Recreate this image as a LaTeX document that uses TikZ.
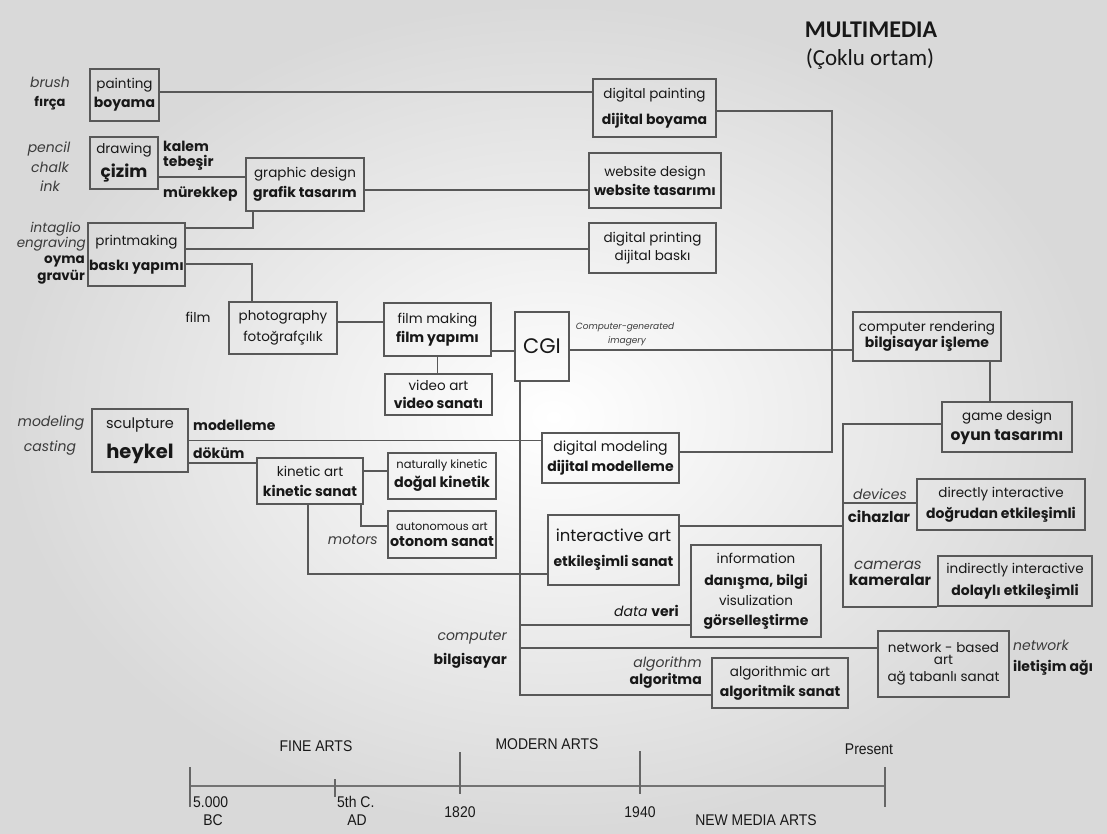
\documentclass[tikz,border=0pt]{standalone}
\usepackage{fontspec}
\setmainfont{Poppins}
\newfontfamily\calib{Carlito}
\newfontfamily\cond[FakeStretch=0.9]{Liberation Sans}
\definecolor{linec}{HTML}{585858}
\definecolor{txt}{HTML}{181818}
\newcommand\fs[2]{\fontsize{#1}{#2}\selectfont}
\newcommand\bb[1]{{\fs{14}{16}\bfseries #1}}
\begin{document}
\begin{tikzpicture}[x=1pt,y=-1pt,
  bx/.style={draw=linec,line width=1.5pt,inner sep=0pt,align=center,text=txt,font=\fs{13.5}{16}},
  conn/.style={draw=linec,line width=1.5pt},
  lbl/.style={inner sep=0pt,text=txt,font=\fs{13.5}{16}},
  itl/.style={inner sep=0pt,text=txt!85,font=\fs{14}{16}\itshape},
  bdl/.style={inner sep=0pt,text=txt,font=\fs{14}{16}\bfseries},
  tll/.style={inner sep=0pt,text=txt,font=\cond\fs{15.5}{17}}]
\shade[inner color=white,outer color=black!15] (0,0) rectangle (1107,834);
\useasboundingbox (0,0) rectangle (1107,834);

% title
\node[inner sep=0pt,text=txt,font=\calib\fs{24}{26}\bfseries] (title) at (871,30) {MULTIMEDIA};
\node[inner sep=0pt,text=txt,font=\calib\fs{23}{25}] (subtitle) at (870,59) {(Çoklu ortam)};

% boxes
\node[bx,minimum width=69pt,minimum height=52pt] (painting) at (124.5,95) {painting\\[3pt]\bb{boyama}};
\node[bx,minimum width=68pt,minimum height=52pt] (drawing) at (124,163) {drawing\\[6pt]{\fs{17}{19}\bfseries çizim}};
\node[bx,minimum width=118pt,minimum height=53pt] (graphic) at (305,184.5) {graphic design\\[4pt]\bb{grafik tasarım}};
\node[bx,minimum width=97pt,minimum height=63pt] (printmaking) at (136.5,254.5) {printmaking\\[9pt]\bb{baskı yapımı}};
\node[bx,minimum width=108pt,minimum height=52pt] (photography) at (283,328) {photography\\[5pt]fotoğrafçılık};
\node[bx,minimum width=107pt,minimum height=53pt] (filmmaking) at (437.5,329.5) {film making\\[3pt]\bb{film yapımı}};
\node[bx,minimum width=107pt,minimum height=41pt] (videoart) at (438.5,394.5) {video art\\[2pt]\bb{video sanatı}};
\node[bx,minimum width=54pt,minimum height=69pt,font=\fs{21}{24}] (cgi) at (542,346.5) {CGI};
\node[bx,minimum width=123pt,minimum height=58pt] (dpainting) at (654.5,108) {digital painting\\[10pt]\bb{dijital boyama}};
\node[bx,minimum width=132pt,minimum height=55pt] (website) at (655,180.5) {website design\\[3pt]\bb{website tasarımı}};
\node[bx,minimum width=127pt,minimum height=50pt] (dprinting) at (652.5,248) {digital printing\\[2pt]dijital baskı};
\node[bx,minimum width=137pt,minimum height=50pt,font=\fs{14}{16}] (dmodeling) at (610.5,458) {digital modeling\\[4pt]\bb{dijital modelleme}};
\node[bx,minimum width=148pt,minimum height=49pt] (render) at (927,336.5) {computer rendering\\[0pt]\bb{bilgisayar işleme}};
\node[bx,minimum width=130pt,minimum height=50pt] (game) at (1007,427) {game design\\[4pt]{\fs{15.5}{17}\bfseries oyun tasarımı}};
\node[bx,minimum width=168pt,minimum height=51pt] (direct) at (1001,504.5) {directly interactive\\[5pt]\bb{doğrudan etkileşimli}};
\node[bx,minimum width=154pt,minimum height=50pt] (indirect) at (1015,581) {indirectly interactive\\[6pt]\bb{dolaylı etkileşimli}};
\node[bx,minimum width=131pt,minimum height=70pt] (interactive) at (613.5,550) {{\fs{16.5}{18}interactive art}\\[9pt]\bb{etkileşimli sanat}};
\node[bx,minimum width=130pt,minimum height=92pt,font=\fs{13.5}{20}] (information) at (756,591) {information\\[2pt]\bb{danışma, bilgi}\\visulization\\\bb{görselleştirme}};
\node[bx,minimum width=136pt,minimum height=50pt] (algorithmic) at (780,683) {algorithmic art\\[4pt]\bb{algoritmik sanat}};
\node[bx,minimum width=131pt,minimum height=66pt,font=\fs{13.5}{16}] (network) at (943.5,664) {network - based\\[-4pt]art\\[1pt]ağ tabanlı sanat};
\node[bx,minimum width=96pt,minimum height=63pt] (sculpture) at (140,440.5) {{\fs{14.5}{17}sculpture}\\[11pt]{\fs{19.5}{21}\bfseries heykel}};
\node[bx,minimum width=106pt,minimum height=46pt] (kinetic) at (310,481) {kinetic art\\[4pt]\bb{kinetic sanat}};
\node[bx,minimum width=108pt,minimum height=46pt] (natkin) at (442,476) {{\fs{11.5}{13}naturally kinetic}\\[3pt]{\fs{14.3}{16}\bfseries doğal kinetik}};
\node[bx,minimum width=108pt,minimum height=47pt] (auton) at (442,534.5) {{\fs{11.3}{13}autonomous art}\\[0pt]{\fs{14.3}{16}\bfseries otonom sanat}};

% coordinates for trunks
\coordinate (rj) at (832,300);
\coordinate (bx) at (843,500);
\coordinate (cgv) at ([xshift=-22pt]cgi.south);

% connectors
\draw[conn] ([yshift=3pt]painting.east) -- ([yshift=3pt]painting.east -| dpainting.west);
\draw[conn] ([yshift=-14pt]drawing.east) -- ([yshift=-14pt]drawing.east -| graphic.west);
\draw[conn] ([yshift=-5.5pt]graphic.east) -- ([yshift=-5.5pt]graphic.east -| website.west);
\draw[conn] ([xshift=-52pt]graphic.south) |- ([yshift=26.5pt]printmaking.east);
\draw[conn] ([yshift=5.5pt]printmaking.east) -- ([yshift=5.5pt]printmaking.east -| dprinting.west);
\draw[conn] ([yshift=-9.5pt]printmaking.east) -| ([xshift=-31pt]photography.north);
\draw[conn] ([yshift=6pt]photography.east) -- ([yshift=6pt]photography.east -| filmmaking.west);
\draw[conn] (filmmaking.south) -- (filmmaking.south |- videoart.north);
\draw[conn] ([yshift=-21.5pt]filmmaking.east) -- ([yshift=-21.5pt]filmmaking.east -| cgi.west);
\draw[conn] ([yshift=-3.5pt]cgi.east) -- ([yshift=-3.5pt]cgi.east -| render.west);
\draw[conn] ([yshift=-3pt]dpainting.east) -| (rj) |- ([yshift=6pt]dmodeling.east);
\draw[conn] ([xshift=63pt]render.south) -- ([xshift=63pt]render.south |- game.north);
\draw[conn] ([yshift=3pt]game.west) -| (bx) |- (indirect.south west);
\draw[conn] ([yshift=1.5pt]direct.west -| bx) -- ([yshift=1.5pt]direct.west);
\draw[conn] ([yshift=24pt]interactive.east) -- ([yshift=24pt]interactive.east -| bx);
\draw[conn] (cgv) |- ([yshift=-12pt]algorithmic.west);
\draw[conn] ([yshift=-34pt]information.west -| cgv) -- ([yshift=-34pt]information.west);
\draw[conn] ([yshift=16pt]network.west -| cgv) -- ([yshift=16pt]network.west);
\draw[conn] (sculpture.east) -- (sculpture.east -| dmodeling.west);
\draw[conn] ([yshift=-22.5pt]sculpture.east) -- ([yshift=-22.5pt]sculpture.east -| kinetic.west);
\draw[conn] ([yshift=10pt]kinetic.east) -- ([yshift=10pt]kinetic.east -| natkin.west);
\draw[conn] ([xshift=51pt]kinetic.south) |- ([yshift=8.5pt]auton.west);
\draw[conn] ([xshift=-2pt]kinetic.south) |- ([yshift=-24pt]interactive.west);

% side labels
\node[itl] (brush) at (50,82) {brush};
\node[bdl,font=\fs{13}{15}\bfseries] (firca) at (50,103) {fırça};
\node[itl] (pencil) at (49,149) {pencil};
\node[itl] (chalk) at (50,167) {chalk};
\node[itl] (ink) at (50,186) {ink};
\node[bdl,anchor=west] (kalem) at (163,146) {kalem};
\node[bdl,anchor=west] (tebesir) at (163,163) {tebeşir};
\node[bdl,anchor=west] (murekkep) at (163,194) {mürekkep};
\node[itl,anchor=east,font=\fs{13.5}{15}\itshape] (intaglio) at (81,229) {intaglio};
\node[itl,anchor=east,font=\fs{13.5}{15}\itshape] (engraving) at (86,244) {engraving};
\node[bdl,anchor=east,font=\fs{13.5}{15}\bfseries] (oyma) at (85,261) {oyma};
\node[bdl,anchor=east,font=\fs{13.5}{15}\bfseries] (gravur) at (85,277) {gravür};
\node[lbl] (film) at (198,317) {film};
\node[itl] (modeling) at (51,423) {modeling};
\node[itl] (casting) at (50,448) {casting};
\node[bdl,anchor=west] (modelleme) at (193,425) {modelleme};
\node[bdl,anchor=west] (dokum) at (193,453) {döküm};
\node[itl,anchor=east] (motors) at (378,540) {motors};
\node[itl,font=\fs{9}{10}\itshape] (cgen) at (625,327) {Computer-generated};
\node[itl,font=\fs{9}{10}\itshape] (imagery) at (627,341) {imagery};
\node[itl] (devices) at (880,494) {devices};
\node[bdl,font=\fs{15}{17}\bfseries] (cihazlar) at (879,517) {cihazlar};
\node[itl,font=\fs{15}{17}\itshape] (cameras) at (888,565) {cameras};
\node[bdl,font=\fs{15}{17}\bfseries] (kameralar) at (890,580) {kameralar};
\node[lbl,anchor=east] (dataveri) at (679,611) {{\fs{14}{16}\itshape data} \bb{veri}};
\node[itl,anchor=east] (computer) at (507,638) {computer};
\node[bdl,anchor=east] (bilgisayar) at (507,661) {bilgisayar};
\node[itl,anchor=east] (algorithm) at (702,664) {algorithm};
\node[bdl,anchor=east] (algoritma) at (702,681) {algoritma};
\node[itl,anchor=west] (networkl) at (1013,645) {network};
\node[bdl,anchor=west] (iletisim) at (1013,668) {iletişim ağı};

% timeline
\draw[draw=black!55,line width=2.6pt] (190,786) -- (885,786);
\draw[draw=black!60,line width=1.3pt] (190,767) -- (190,807);
\draw[draw=black!60,line width=1.3pt] (335,779) -- (335,797);
\draw[draw=black!60,line width=1.3pt] (460,752) -- (460,794);
\draw[draw=black!60,line width=1.3pt] (640,751) -- (640,794);
\draw[draw=black!60,line width=1.3pt] (885,767) -- (885,807);
\node[tll] (finearts) at (316,746) {FINE ARTS};
\node[tll] (modernarts) at (547,744) {MODERN ARTS};
\node[tll] (present) at (869,749) {Present};
\node[tll,anchor=west] (bc5000) at (193,802) {5.000};
\node[tll] (bc) at (213,820) {BC};
\node[tll,anchor=west] (c5) at (337,802) {5th C.};
\node[tll] (ad) at (357,820) {AD};
\node[tll] (y1820) at (460,812) {1820};
\node[tll] (y1940) at (640,812) {1940};
\node[tll] (nma) at (756,820) {NEW MEDIA ARTS};
\end{tikzpicture}
\end{document}
